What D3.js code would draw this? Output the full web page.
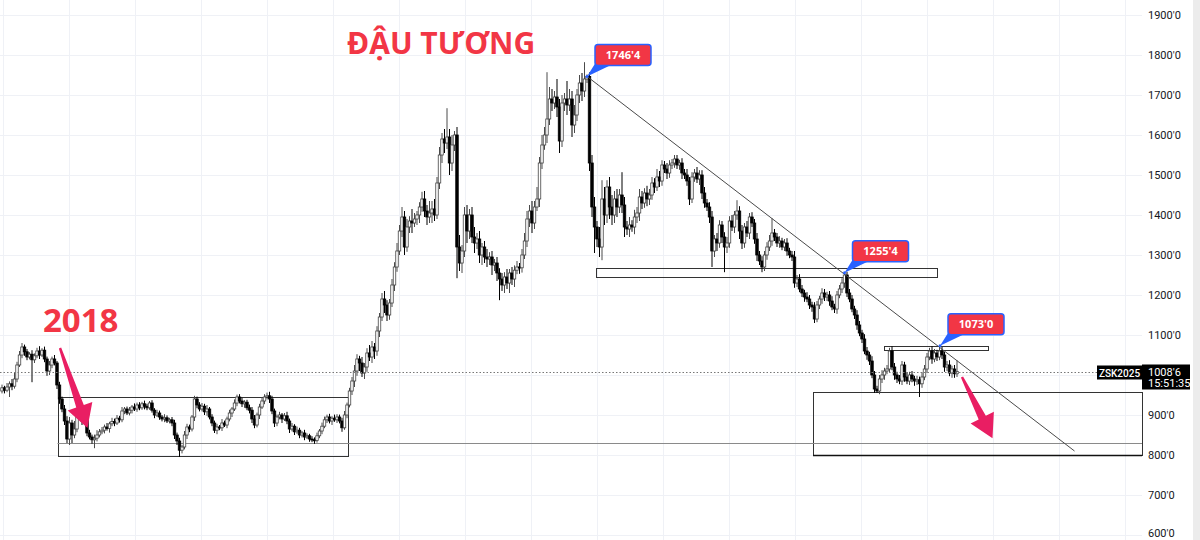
<!DOCTYPE html>
<html><head><meta charset="utf-8">
<script src="https://cdn.jsdelivr.net/npm/d3@7"></script>
<style>html,body{margin:0;padding:0;background:#fff;overflow:hidden}svg{display:block}</style>
</head><body><svg id="c" width="1200" height="540"></svg>
<script>
// ---- DATA (weekly closes, soybean futures) ----
const closes=[
968,962,970,978,972,990,1025,1050,1070,1058,
1045,1052,1038,1048,1060,1050,1062,1040,1010,1025,
1040,1030,975,940,915,885,840,880,850,865,
900,905,885,895,855,845,838,842,850,858,
862,870,866,878,884,880,892,888,910,915,
905,912,920,915,925,918,928,922,918,930,
912,900,905,895,890,893,885,888,880,850,
835,812,820,850,870,865,895,940,925,915,
922,908,915,895,880,862,870,868,880,875,
890,905,915,930,945,935,928,932,918,912,
890,875,900,920,935,945,948,940,910,880,
895,900,890,898,885,865,872,858,862,850,
855,845,848,840,838,836,848,860,872,888,
895,885,892,888,895,885,868,900,925,960,
985,1010,1040,1030,1005,1020,1055,1045,1070,1060,
1110,1145,1190,1175,1150,1180,1225,1270,1310,1360,
1395,1320,1370,1385,1380,1390,1400,1420,1440,1410,
1395,1405,1415,1400,1480,1550,1590,1580,1595,1530,
1575,1600,1320,1280,1310,1400,1360,1400,1345,1330,
1340,1300,1320,1295,1290,1295,1275,1280,1255,1240,
1225,1245,1230,1255,1240,1262,1270,1268,1300,1335,
1390,1410,1380,1420,1440,1530,1575,1600,1640,1690,
1680,1695,1670,1585,1680,1690,1675,1690,1625,1650,
1700,1730,1710,1740,1746.5,1530,1420,1370,1340,1320,
1440,1400,1470,1420,1400,1440,1420,1450,1425,1370,
1365,1375,1370,1395,1405,1445,1430,1455,1440,1450,
1480,1470,1495,1485,1525,1515,1505,1525,1530,1540,
1525,1530,1505,1500,1485,1440,1495,1505,1490,1500,
1455,1430,1420,1395,1310,1340,1330,1375,1345,1320,
1330,1385,1370,1400,1410,1360,1330,1370,1355,1395,
1380,1340,1300,1285,1270,1300,1320,1335,1355,1345,
1330,1335,1320,1330,1310,1300,1295,1230,1240,1215,
1205,1195,1190,1175,1170,1140,1175,1190,1205,1195,
1200,1185,1170,1165,1200,1215,1230,1250,1205,1190,
1165,1150,1125,1105,1090,1060,1050,1035,1000,965,
960,990,1000,1010,1015,1060,1020,1000,990,985,
1025,995,985,1000,990,985,988,978,995,1015,
1045,1060,1040,1055,1045,1060,1050,1020,1025,1005,1015,1003,1008.75];
// upper wick above body top, lower wick below body bottom (cents)
const wickUp=[
8,5,10,6,12,15,8,10,10,6, 7,5,10,6,8,12,5,9,6,10, 6,10,5,8,6,10,12,15,8,20,
12,8,6,10,5,8,6,9,12,7, 8,6,10,5,9,7,8,6,10,5, 6,8,5,9,6,7,5,8,6,5,
7,5,8,6,5,9,6,5,7,8, 6,8,5,10,8,6,5,8,6,7, 8,6,10,5,7,6,8,5,10,6,
6,8,5,9,6,7,8,5,6,8, 8,10,6,8,10,7,8,10,8,6, 6,8,5,7,10,6,8,5,9,6,
5,8,6,5,7,6,8,5,9,8, 6,8,5,9,7,6,8,10,6,8, 10,15,12,8,15,10,12,20,15,10,
12,10,15,20,12,10,15,12,20,15, 25,15,20,12,30,15,10,12,18,20, 15,30,20,25,15,20,15,25,72,20,
25,10,20,30,15,20,25,15,20,25, 15,20,10,15,20,12,15,10,15,12, 15,12,20,10,15,12,15,10,15,20,
20,15,25,15,30,15,25,20,117,30, 25,15,45,20,20,15,45,25,20,25, 15,20,25,42,5,10,20,25,15,30,
47,30,17,25,30,20,25,15,57,20, 15,20,12,18,15,20,15,12,18,15, 15,12,20,15,12,10,15,12,10,10,
10,8,12,10,15,10,12,10,15,12, 12,15,10,12,15,10,15,12,10,12, 15,12,15,10,27,12,15,10,15,10,
12,10,15,10,12,10,12,15,37,10, 10,12,8,10,12,8,10,15,10,12, 10,8,12,10,8,12,10,8,12,10,
8,10,12,8,10,10,12,5.5,8,10, 10,8,12,10,8,12,10,8,12,10, 8,10,12,8,10,8,12,10,8,10,
10,8,12,8,10,8,10,8,12,10, 10,8,12,10,8,13,10,8,10,12,8,10,28];
const wickDown=[
6,8,5,25,10,6,8,5,8,10, 8,6,56,8,6,10,5,8,12,10, 8,6,10,12,8,10,10,15,20,8,
8,6,10,5,8,6,10,21,8,6, 6,8,5,10,6,8,5,7,6,8, 5,6,8,5,7,6,5,8,6,5,
6,8,5,7,6,8,5,6,8,10, 10,17,8,6,10,8,6,10,8,6, 6,8,10,6,8,7,10,6,8,5,
8,6,10,5,8,6,8,10,6,8, 10,8,6,10,5,8,6,10,8,10, 8,6,10,5,8,10,6,8,5,8,
6,8,5,7,6,8,5,6,8,5, 8,6,10,5,8,6,10,5,8,6, 10,15,12,20,10,15,12,10,15,20,
12,15,10,20,15,12,10,15,12,10, 15,20,12,15,25,10,15,20,12,15, 20,15,25,15,10,15,20,25,15,30,
20,15,78,20,25,15,30,20,15,25, 15,20,25,15,20,15,25,15,20,53, 15,20,15,25,15,20,10,15,12,10,
15,20,25,15,10,20,15,12,20,15, 20,15,25,30,15,20,25,15,30,20, 15,20,25,15,10,20,25,65,20,25,
33,25,20,30,25,20,25,15,20,25, 15,20,12,18,15,20,15,12,18,15, 12,15,10,15,12,10,15,12,10,12,
10,12,15,10,12,15,10,12,10,15, 15,12,10,15,40,15,20,12,15,63, 15,12,10,15,12,20,15,12,10,15,
10,12,15,10,13,10,12,10,12,10, 10,12,8,10,12,8,10,12,10,8, 10,12,8,10,12,10,8,10,12,10,
10,12,8,10,12,8,10,12,10,8, 8,10,12,8,10,8,12,10,8,10, 5,8,10,12,8,10,8,12,10,8,
10,12,8,10,8,12,10,33,10,8, 10,8,12,8,10,8,10,12,10,8,12,10,8];
const firstOpen=960;
const priceTicks=[600,700,800,900,1000,1100,1200,1300,1400,1500,1600,1700,1800,1900];
const axisTickLabels=priceTicks.filter(v=>v!==1000);
const symbol="ZSK2025", lastPrice=1008.75, clock="15:51:35";
const title="ĐẬU TƯƠNG", yearLabel="2018";
const callouts=[{i:234,v:1746.5},{i:337,v:1255.5},{i:375.2,v:1073}];
const trend=[{i:234,v:1746.5},{i:429,v:810}];
const boxes=[{i0:22.2,i1:138,v0:945.5,v1:797.5},{i0:324.4,i1:456,v0:957.5,v1:800},
             {i0:237.6,i1:374,v0:1267.5,v1:1245},{i0:352.8,i1:394.4,v0:1073,v1:1062.5}];
const levels=[{i0:22.2,i1:456,v:830,w:1,c:"#8a8a8a"},{i0:324.4,i1:456,v:800,w:1.6,c:"#111"}];
const arrows=[{s:[23.2,1067.5],e:[34.2,867.5]},{s:[384,995],e:[396.2,842]}];
const gridIdx=d3.range(0,18).map(k=>0.4+26.4*k);

// ---- BUILD ----
const candles=closes.map((c,i)=>{const o=i?closes[i-1]:firstOpen;
  return {i,o,c,h:Math.max(o,c)+wickUp[i],l:Math.min(o,c)-wickDown[i]};});
const fmt=v=>Math.floor(v)+"'"+Math.round((v-Math.floor(v))*8);

const svg=d3.select("#c");
const x=d3.scaleLinear().domain([0,456]).range([2,1142]);
const y=d3.scaleLinear().domain([600,1900]).range([535,15]);
const RED="#f23645", PINK="#e91e63", BLUE="#2962ff";

svg.append("rect").attr("width",1200).attr("height",540).attr("fill","#fff");
// grid
const g=svg.append("g");
g.selectAll(".hg").data(priceTicks).join("line").attr("x1",0).attr("x2",1142)
 .attr("y1",d=>Math.round(y(d))+0.5).attr("y2",d=>Math.round(y(d))+0.5).attr("stroke","#eff1f6");
g.selectAll(".vg").data(gridIdx).join("line").attr("y1",0).attr("y2",540)
 .attr("x1",d=>Math.round(x(d))+0.5).attr("x2",d=>Math.round(x(d))+0.5).attr("stroke","#eff1f6");
svg.append("rect").attr("x",1193).attr("y",0).attr("width",7).attr("height",540).attr("fill","#ececec");

// axis
const ax=svg.append("g").attr("transform","translate(1142,0)")
 .call(d3.axisRight(y).tickValues(axisTickLabels).tickSize(0).tickPadding(6).tickFormat(d=>d+"'0"));
ax.select(".domain").remove();
ax.selectAll("text").attr("font-family","Roboto, 'Noto Sans', sans-serif").attr("font-size",11).attr("fill","#131722")
 .attr("dy",d=>d===600?"0.1em":"0.32em");

// zones
svg.selectAll(".box").data(boxes).join("rect")
 .attr("x",d=>Math.round(x(d.i0))+0.5).attr("y",d=>Math.round(y(d.v0))+0.5)
 .attr("width",d=>Math.round(x(d.i1)-x(d.i0))).attr("height",d=>Math.round(y(d.v1)-y(d.v0)))
 .attr("fill","none").attr("stroke","#333").attr("stroke-width",1);
svg.selectAll(".lvl").data(levels).join("line")
 .attr("x1",d=>x(d.i0)).attr("x2",d=>x(d.i1)).attr("y1",d=>Math.round(y(d.v))+0.5).attr("y2",d=>Math.round(y(d.v))+0.5)
 .attr("stroke",d=>d.c).attr("stroke-width",d=>d.w);

// candles
const cg=svg.append("g");
const cand=cg.selectAll("g").data(candles).join("g");
cand.append("line").attr("x1",d=>x(d.i)).attr("x2",d=>x(d.i)).attr("y1",d=>y(d.h)).attr("y2",d=>y(d.l))
 .attr("stroke",d=>d.c>=d.o?"#4a4a4a":"#000").attr("stroke-width",1);
cand.append("rect").attr("x",d=>x(d.i)-1.25).attr("width",2.5)
 .attr("y",d=>y(Math.max(d.o,d.c))).attr("height",d=>Math.max(1,Math.abs(y(d.o)-y(d.c))))
 .attr("fill",d=>d.c>=d.o?"#fff":"#000").attr("stroke",d=>d.c>=d.o?"#444":"#000").attr("stroke-width",0.8);

// trend line
svg.append("line").attr("x1",x(trend[0].i)).attr("y1",y(trend[0].v)).attr("x2",x(trend[1].i)).attr("y2",y(trend[1].v))
 .attr("stroke","#4a4a4a").attr("stroke-width",1);

// last price dotted line
const ly=Math.round(y(lastPrice))+0.5;
svg.append("line").attr("x1",0).attr("x2",1097).attr("y1",ly).attr("y2",ly)
 .attr("stroke","#777").attr("stroke-width",1).attr("stroke-dasharray","1.5,2");
svg.append("rect").attr("x",1097).attr("y",ly-7).attr("width",45).attr("height",14).attr("fill","#000");
svg.append("text").attr("x",1119.5).attr("y",ly+4).attr("text-anchor","middle").attr("fill","#fff")
 .attr("font-family","Roboto, sans-serif").attr("font-size",10).attr("font-weight",500).text(symbol);
svg.append("rect").attr("x",1142).attr("y",ly-8).attr("width",48).attr("height",25).attr("fill","#000");
svg.append("text").attr("x",1148).attr("y",ly+3).attr("fill","#fff")
 .attr("font-family","Roboto, sans-serif").attr("font-size",11).text(fmt(lastPrice));
svg.append("text").attr("x",1148).attr("y",ly+14.5).attr("fill","#fff")
 .attr("font-family","Roboto, sans-serif").attr("font-size",11).text(clock);

// arrows
function arrowPath(sx,sy,ex,ey){
  const dx=ex-sx, dy=ey-sy, L=Math.hypot(dx,dy), ux=dx/L, uy=dy/L, px=-uy, py=ux;
  const hl=23, hw=13, w0=1.2, w1=4;
  const bx=ex-ux*hl, by=ey-uy*hl;
  const p=[[sx+px*w0,sy+py*w0],[bx+px*w1,by+py*w1],[bx+px*hw,by+py*hw],[ex,ey],
           [bx-px*hw,by-py*hw],[bx-px*w1,by-py*w1],[sx-px*w0,sy-py*w0]];
  return "M"+p.map(q=>q.join(",")).join("L")+"Z";
}
svg.selectAll(".arr").data(arrows).join("path")
 .attr("d",d=>arrowPath(x(d.s[0]),y(d.s[1]),x(d.e[0]),y(d.e[1]))).attr("fill",PINK);

// callouts
callouts.forEach(d=>{
  const axp=x(d.i), ayp=y(d.v);
  const bw=56, bh=21, bx=axp+8, by=ayp-11-bh;
  svg.append("path").attr("d",`M${axp},${ayp}L${bx+2},${by+bh-5}L${bx+15},${by+bh}Z`).attr("fill",BLUE);
  svg.append("rect").attr("x",bx).attr("y",by).attr("width",bw).attr("height",bh).attr("rx",3)
   .attr("fill",RED).attr("stroke",BLUE).attr("stroke-width",1.5);
  svg.append("text").attr("x",bx+bw/2).attr("y",by+bh/2+4).attr("text-anchor","middle").attr("fill","#fff")
   .attr("font-family","'Open Sans', Roboto, sans-serif").attr("font-size",11).attr("font-weight",700).text(fmt(d.v));
  svg.append("circle").attr("cx",axp).attr("cy",ayp).attr("r",1.5).attr("fill",BLUE);
});

// titles
svg.append("text").attr("x",347).attr("y",54).attr("fill",RED).attr("font-family","'Open Sans', sans-serif")
 .attr("font-size",30).attr("font-weight",700).text(title);
svg.append("text").attr("x",43).attr("y",332).attr("fill",RED).attr("font-family","'Open Sans', sans-serif")
 .attr("font-size",33).attr("font-weight",700).text(yearLabel);
</script></body></html>
